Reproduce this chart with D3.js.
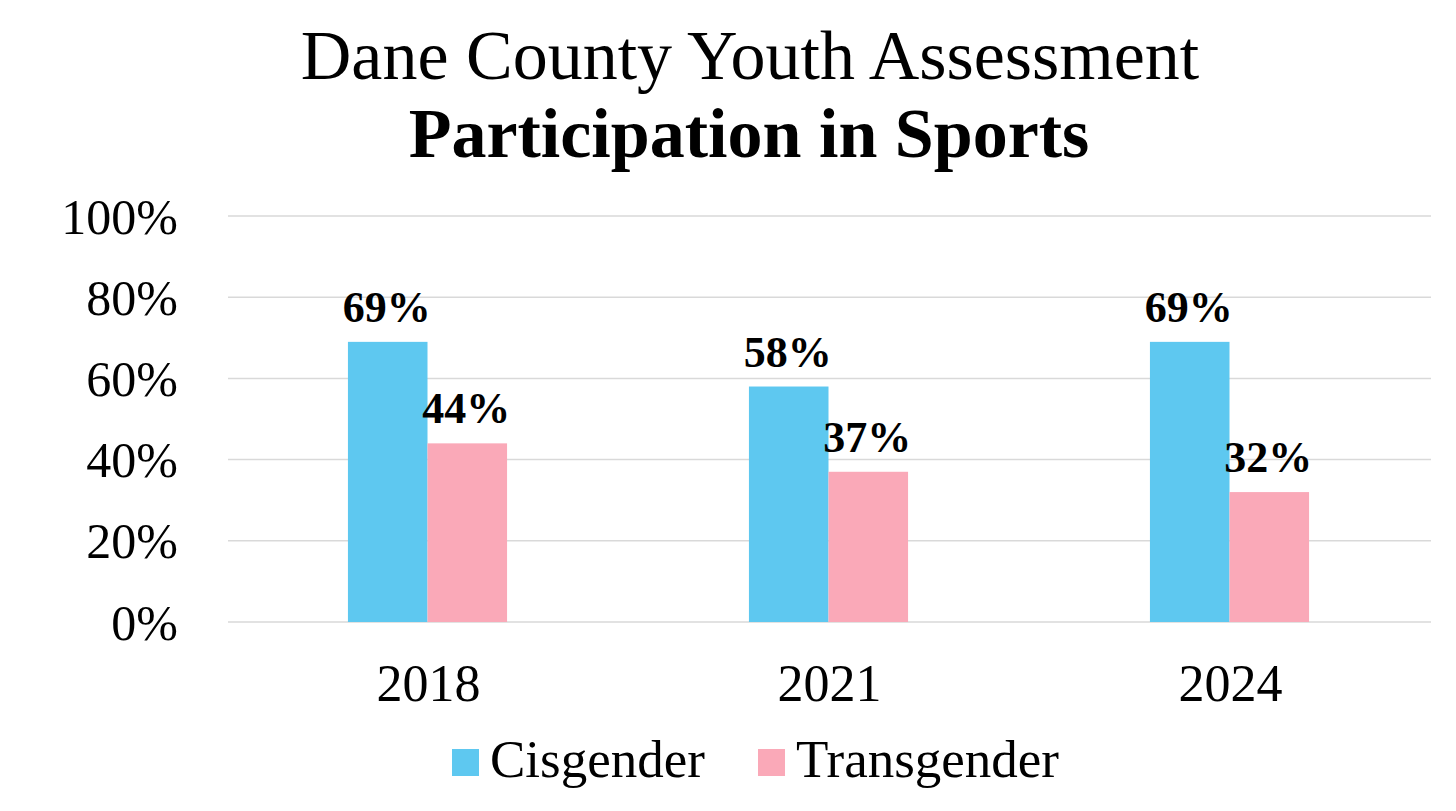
<!DOCTYPE html>
<html lang="en">
<head>
    <meta charset="UTF-8">
    <title>Participation in Sports</title>
    <script src="https://d3js.org/d3.v7.min.js"></script>
    <style>
        body {
            margin: 0;
            background: #fff;
        }
        svg text {
            font-family: "Liberation Serif", "Times New Roman", serif;
            fill: #000;
        }
    </style>
</head>
<body>
    <svg id="chart" width="1456" height="811"></svg>
    <script>
        const years = ["2018", "2021", "2024"];
        const groups = ["Cisgender", "Transgender"];
        const cisgender = [0.69, 0.58, 0.69];
        const transgender = [0.44, 0.37, 0.32];
        const yTicks = [0, 0.2, 0.4, 0.6, 0.8, 1.0];

        const colors = { Cisgender: "#5ec8f0", Transgender: "#faa9b8" };

        const svg = d3.select("#chart");
        const plotLeft = 228, plotRight = 1431, plotTop = 216, plotBottom = 622;

        const rows = years.map((yr, i) => ({
            year: yr,
            values: [
                { key: "Cisgender", value: cisgender[i] },
                { key: "Transgender", value: transgender[i] }
            ]
        }));

        const x0 = d3.scaleBand().domain(years).range([plotLeft, plotRight]).padding(0);
        const x1 = d3.scaleBand().domain(groups).range([0, x0.bandwidth()])
            .paddingInner(0).paddingOuter(1.52);
        const y = d3.scaleLinear().domain([0, 1]).range([plotBottom, plotTop]);

        // titles
        svg.append("text")
            .attr("x", 750).attr("y", 79)
            .attr("text-anchor", "middle")
            .style("font-size", "70px")
            .text("Dane County Youth Assessment");
        svg.append("text")
            .attr("x", 749).attr("y", 157)
            .attr("text-anchor", "middle")
            .style("font-size", "70px")
            .style("font-weight", "bold")
            .text("Participation in Sports");

        // gridlines
        svg.append("g")
            .selectAll("line")
            .data(yTicks)
            .join("line")
            .attr("x1", plotLeft).attr("x2", plotRight)
            .attr("y1", d => y(d)).attr("y2", d => y(d))
            .attr("stroke", "#d9d9d9")
            .attr("stroke-width", 1.5);

        // y tick labels
        svg.append("g")
            .selectAll("text")
            .data(yTicks)
            .join("text")
            .attr("x", 178)
            .attr("y", d => y(d))
            .attr("dy", "0.35em")
            .attr("text-anchor", "end")
            .style("font-size", "50px")
            .text(d3.format(".0%"));

        // bars
        const g = svg.append("g")
            .selectAll("g")
            .data(rows)
            .join("g")
            .attr("transform", d => `translate(${x0(d.year)},0)`);

        g.selectAll("rect")
            .data(d => d.values)
            .join("rect")
            .attr("x", d => x1(d.key) - 1)
            .attr("y", d => y(d.value))
            .attr("width", x1.bandwidth())
            .attr("height", d => y(0) - y(d.value))
            .attr("fill", d => colors[d.key]);

        g.selectAll("text")
            .data(d => d.values)
            .join("text")
            .attr("x", d => x1(d.key) + x1.bandwidth() / 2 - 2)
            .attr("y", d => y(d.value) - 20)
            .attr("text-anchor", "middle")
            .style("font-size", "44px")
            .style("font-weight", "bold")
            .text(d => d3.format(".0%")(d.value));

        // x labels
        svg.append("g")
            .selectAll("text")
            .data(years)
            .join("text")
            .attr("x", d => x0(d) + x0.bandwidth() / 2)
            .attr("y", 701)
            .attr("text-anchor", "middle")
            .style("font-size", "52px")
            .text(d => d);

        // legend
        const legendX = [452, 758];
        const legend = svg.append("g")
            .selectAll("g")
            .data(groups)
            .join("g")
            .attr("transform", (d, i) => `translate(${legendX[i]},749)`);
        legend.append("rect")
            .attr("width", 27).attr("height", 27)
            .attr("fill", d => colors[d]);
        legend.append("text")
            .attr("x", 38).attr("y", 28)
            .style("font-size", "53px")
            .text(d => d);
    </script>
</body>
</html>
